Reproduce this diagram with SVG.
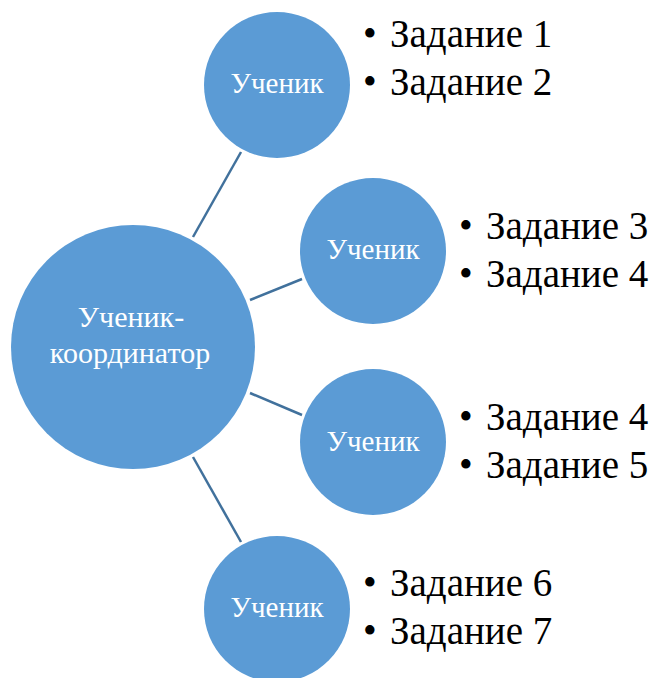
<svg xmlns="http://www.w3.org/2000/svg" width="654" height="678" viewBox="0 0 654 678">
<style>
.node{fill:#5B9BD5;}
.lbl{fill:#FFFFFF;font-family:"Liberation Serif","Times New Roman",serif;font-size:29px;text-anchor:middle;}
.lbl-main{font-size:30px;}
.task{fill:#000000;font-family:"Liberation Serif","Times New Roman",serif;font-size:39px;}
.conn{stroke:#41719C;stroke-width:2.5;fill:none;}
</style>
<rect width="654" height="678" fill="#FFFFFF"/>
<g id="connectors">
<line class="conn" x1="193" y1="237" x2="241" y2="152"/>
<line class="conn" x1="250" y1="300" x2="302" y2="279"/>
<line class="conn" x1="250" y1="393" x2="302" y2="415"/>
<line class="conn" x1="193" y1="457" x2="241" y2="542"/>
</g>
<g id="node-center">
<circle class="node" cx="133" cy="347" r="122"/>
<text class="lbl lbl-main" x="131" y="327">Ученик-</text>
<text class="lbl lbl-main" x="130" y="363">координатор</text>
</g>
<g id="node-1">
<circle class="node" cx="277" cy="85" r="73"/>
<text class="lbl" x="277" y="93">Ученик</text>
</g>
<g id="node-2">
<circle class="node" cx="373" cy="251" r="73"/>
<text class="lbl" x="373" y="259">Ученик</text>
</g>
<g id="node-3">
<circle class="node" cx="373" cy="442" r="73"/>
<text class="lbl" x="373" y="451">Ученик</text>
</g>
<g id="node-4">
<circle class="node" cx="277" cy="609" r="73"/>
<text class="lbl" x="277" y="617">Ученик</text>
</g>
<g id="tasks-1">
<text class="task" x="363" y="47">•</text><text class="task" x="390" y="47">Задание 1</text>
<text class="task" x="363" y="95">•</text><text class="task" x="390" y="95">Задание 2</text>
</g>
<g id="tasks-2">
<text class="task" x="459" y="239">•</text><text class="task" x="486" y="239">Задание 3</text>
<text class="task" x="459" y="287">•</text><text class="task" x="486" y="287">Задание 4</text>
</g>
<g id="tasks-3">
<text class="task" x="459" y="430">•</text><text class="task" x="486" y="430">Задание 4</text>
<text class="task" x="459" y="478">•</text><text class="task" x="486" y="478">Задание 5</text>
</g>
<g id="tasks-4">
<text class="task" x="363" y="596">•</text><text class="task" x="390" y="596">Задание 6</text>
<text class="task" x="363" y="644">•</text><text class="task" x="390" y="644">Задание 7</text>
</g>
</svg>
